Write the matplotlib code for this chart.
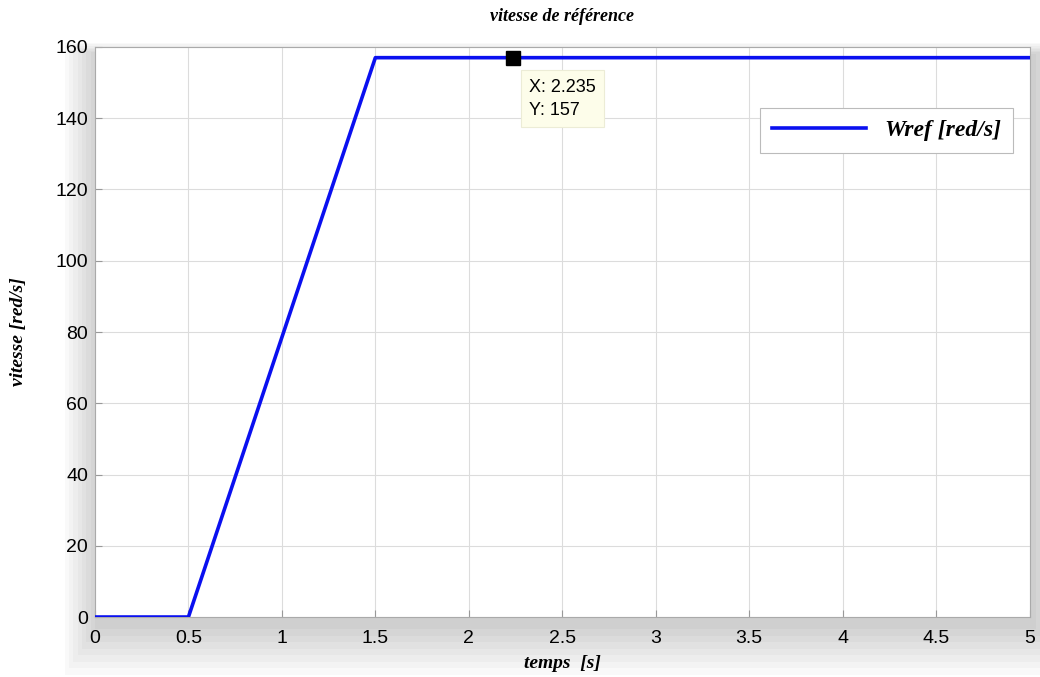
import matplotlib
matplotlib.use("Agg")
import matplotlib.pyplot as plt
from matplotlib.patches import Rectangle

# courbe de vitesse de reference (rampe puis palier)
temps = [0.0, 0.5, 1.5, 5.0]
wref = [0.0, 0.0, 157.0, 157.0]

tip_x = 2.235
tip_y = 157

xticks = [0, 0.5, 1, 1.5, 2, 2.5, 3, 3.5, 4, 4.5, 5]
xticklabels = ["0", "0.5", "1", "1.5", "2", "2.5", "3", "3.5", "4", "4.5", "5"]
yticks = [0, 20, 40, 60, 80, 100, 120, 140, 160]

serif = ["Liberation Serif", "DejaVu Serif"]
sans = ["Liberation Sans", "DejaVu Sans"]

fig = plt.figure(figsize=(10.4, 6.77), dpi=100)
fig.patch.set_facecolor("white")

left, bottom, width, height = 0.0913, 0.0886, 0.8987, 0.842

# ombre grise floue autour des axes (decalee vers le bas)
for i in range(8):
    pad = 0.004 + i * 0.006
    fig.patches.append(Rectangle((left - pad * 0.7 + 0.003, bottom - pad * 1.6 - 0.012),
                                 width + pad * 1.4, height + pad * 2.0,
                                 transform=fig.transFigure, facecolor="black",
                                 alpha=0.025, edgecolor="none", zorder=-5))

ax = fig.add_axes([left, bottom, width, height])
ax.set_zorder(2)
ax.set_facecolor("white")

ax.plot(temps, wref, color="#0a10f0", linewidth=2.6, label="Wref [red/s]", zorder=3)

ax.set_xlim(0, 5)
ax.set_ylim(0, 160)
ax.set_xticks(xticks)
ax.set_xticklabels(xticklabels)
ax.set_yticks(yticks)
ax.grid(True, color="#dcdcdc", linewidth=0.8)
ax.tick_params(direction="in", length=5, color="#999999", labelsize=14)
ax.tick_params(axis="x", pad=9)
ax.tick_params(axis="y", pad=5)
for lab in ax.get_xticklabels() + ax.get_yticklabels():
    lab.set_family(sans)
for sp in ax.spines.values():
    sp.set_color("#aaaaaa")

ax.set_title("vitesse de référence", family=serif, fontsize=13, fontweight="bold",
             style="italic", pad=19)
ax.set_xlabel("temps  [s]", family=serif, fontsize=14, fontweight="bold",
              style="italic", labelpad=6)
ax.set_ylabel("vitesse [red/s]", family=serif, fontsize=14, fontweight="bold",
              style="italic", labelpad=20)

# data tip
ax.plot([tip_x], [tip_y], marker="s", markersize=10, color="black", zorder=5)
ax.annotate("X: %s\nY: %d" % (tip_x, tip_y), xy=(tip_x, tip_y), xytext=(12, -15),
            textcoords="offset points", ha="left", va="top", family=sans,
            fontsize=13, linespacing=1.5,
            bbox=dict(boxstyle="square,pad=0.45", facecolor="#fdfdea",
                      edgecolor="#ececd6", linewidth=0.8), zorder=6)

leg = ax.legend(loc="upper right", bbox_to_anchor=(0.982, 0.893), frameon=True,
                fancybox=False, handlelength=4.0, handletextpad=0.8,
                borderpad=0.5, borderaxespad=0,
                prop=dict(family=serif, size=17, weight="bold", style="italic"))
leg.get_frame().set_edgecolor("#bbbbbb")
leg.get_frame().set_linewidth(0.8)
leg.get_frame().set_alpha(1)

fig.savefig("out.png", dpi=100)
